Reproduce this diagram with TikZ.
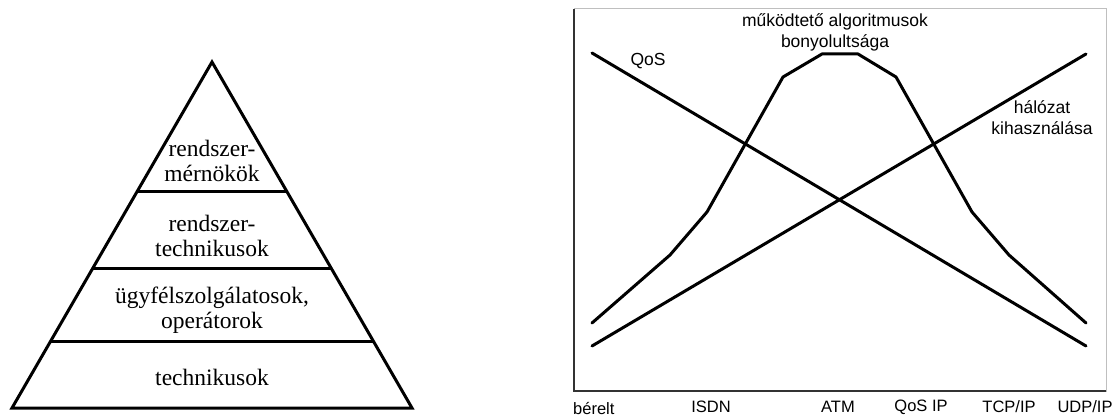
\documentclass[tikz,border=0pt]{standalone}
\usepackage{fontspec}
\setmainfont{Liberation Serif}
\setsansfont{Liberation Sans}
\usetikzlibrary{calc}
\tikzset{
  thickline/.style={line width=3pt, line join=miter},
  layertext/.style={align=center, font=\fontsize{23.5}{25}\selectfont},
  charttext/.style={align=center, font=\sffamily\fontsize{17.5}{21}\selectfont, inner sep=0pt},
  axistext/.style={font=\sffamily\fontsize{16.5}{20}\selectfont, inner sep=0pt}
}

\begin{document}
\begin{tikzpicture}[x=1pt, y=-1pt]
    \useasboundingbox (0,0) rectangle (1118,419);
    % pyramid
    \coordinate (top) at (212,62);
    \coordinate (bl) at (12,408);
    \coordinate (br) at (412,408);
    \draw[thickline] (top) -- (br) -- (bl) -- cycle;
    \draw[thickline] ($(top)!0.373!(bl)$) -- ($(top)!0.373!(br)$);
    \draw[thickline] ($(top)!0.598!(bl)$) -- ($(top)!0.598!(br)$);
    \draw[thickline] ($(top)!0.809!(bl)$) -- ($(top)!0.809!(br)$);
    \node[layertext] (eng) at (212,161) {rendszer-\\mérnökök};
    \node[layertext] (tech) at (212,236) {rendszer-\\technikusok};
    \node[layertext] (oper) at (212,310) {ügyfélszolgálatosok,\\operátorok};
    \node[layertext] (base) at (212,377) {technikusok};

    % chart
    \draw[black!25, line width=1pt] (574,9) rectangle (1106,391);
    \draw[black!80, line width=1.5pt] (574,9) -- (574,391) -- (1106,391);
    \coordinate (q1) at (592,53);
    \coordinate (q2) at (1086,346);
    \coordinate (h1) at (592,346);
    \coordinate (h2) at (1086,54);
    \draw[thickline, line cap=round] (q1) -- (q2);
    \draw[thickline, line cap=round] (h1) -- (h2);
    \draw[thickline, line cap=round, line join=round] (592,323) -- (670,255) -- (707,212) -- (783,77)
      -- (822,54) -- (858,54) -- (896,77) -- (972,212) -- (1009,255) -- (1086,323);
    \node[charttext] (qos) at (648,61) {QoS};
    \node[charttext] (algo) at (835,32) {működtető algoritmusok\\bonyolultsága};
    \node[charttext] (net) at (1042,118) {hálózat\\kihasználása};
    \node[axistext, anchor=west] (berelt) at (573,409) {bérelt};
    \node[axistext] (isdn) at (711,407) {ISDN};
    \node[axistext] (atm) at (838,407) {ATM};
    \node[axistext] (qosip) at (921,407) {QoS IP};
    \node[axistext] (tcp) at (1009,407) {TCP/IP};
    \node[axistext] (udp) at (1085,407) {UDP/IP};
  \end{tikzpicture}
\end{document}
